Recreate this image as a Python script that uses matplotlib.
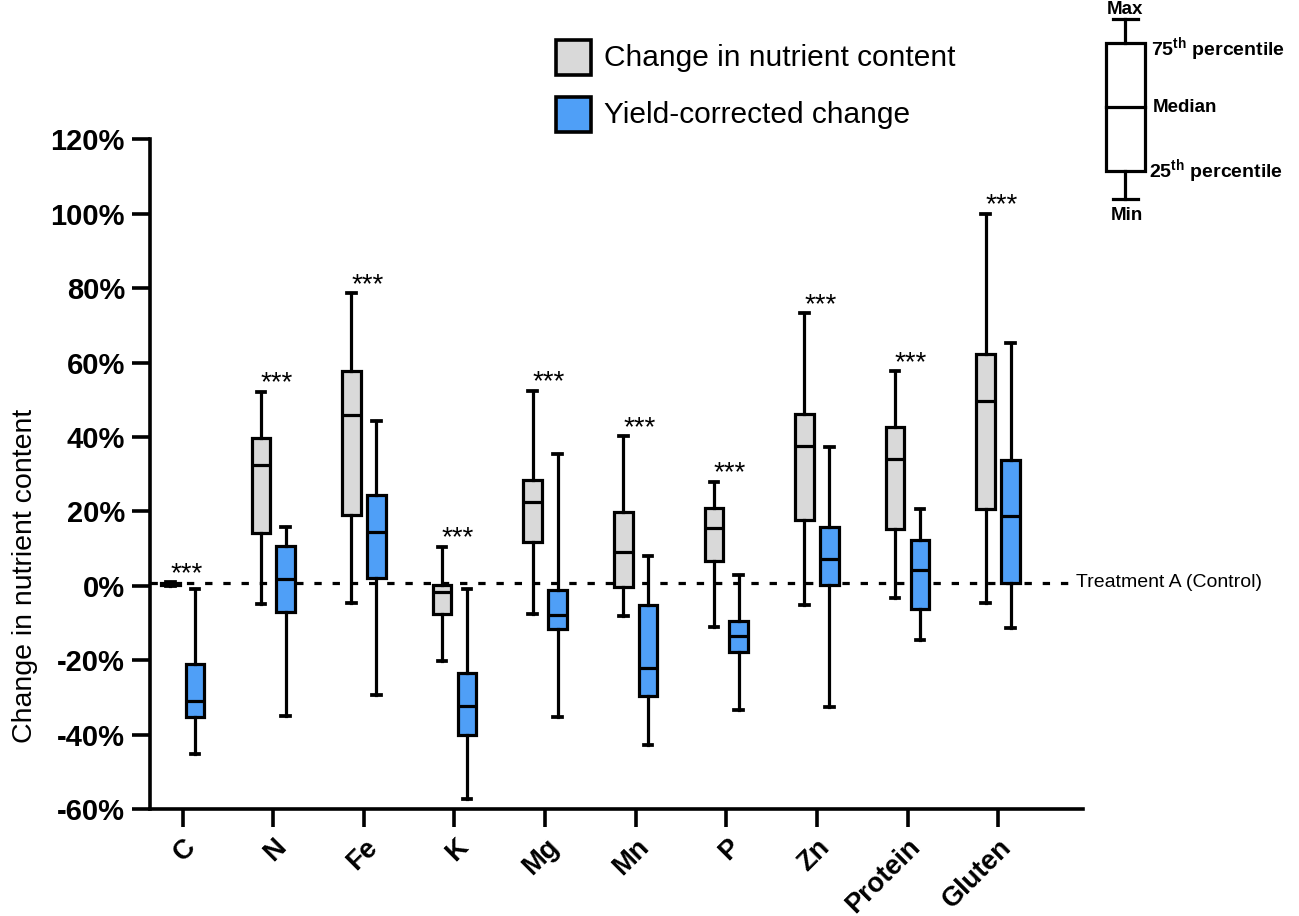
import matplotlib
matplotlib.use("Agg")
import matplotlib.pyplot as plt
from matplotlib.patches import Rectangle
from matplotlib.lines import Line2D
from matplotlib.transforms import ScaledTranslation

plt.rcParams['font.family'] = ['Liberation Sans', 'DejaVu Sans']
plt.rcParams['mathtext.fontset'] = 'custom'
plt.rcParams['mathtext.rm'] = 'Liberation Sans'
plt.rcParams['mathtext.bf'] = 'Liberation Sans:bold'

categories = ['C', 'N', 'Fe', 'K', 'Mg', 'Mn', 'P', 'Zn', 'Protein', 'Gluten']

# Change in nutrient content (grey): min, q1, median, q3, max (%)
nut_min = [0.0, -4.8, -4.5, -20.1, -7.5, -8.1, -11.2, -5.1, -3.4, -4.5]
nut_q1 = [0.3, 14.2, 19.0, -7.7, 11.8, -0.3, 6.7, 17.7, 15.2, 20.5]
nut_med = [0.5, 32.5, 46.0, -1.7, 22.6, 9.0, 15.4, 37.7, 34.1, 49.6]
nut_q3 = [0.7, 39.8, 57.7, 0.3, 28.5, 19.8, 20.8, 46.3, 42.6, 62.3]
nut_max = [1.0, 52.2, 78.6, 10.5, 52.4, 40.3, 28.0, 73.3, 57.7, 100.0]

# Yield-corrected change (blue)
yc_min = [-45.2, -35.0, -29.3, -57.2, -35.3, -42.7, -33.4, -32.6, -14.7, -11.4]
yc_q1 = [-35.3, -7.0, 2.1, -40.2, -11.5, -29.5, -17.9, 0.2, -6.2, 0.7]
yc_med = [-30.9, 1.7, 14.5, -32.3, -7.8, -22.2, -13.6, 7.2, 4.3, 18.8]
yc_q3 = [-21.0, 10.6, 24.3, -23.5, -1.1, -5.1, -9.4, 15.7, 12.4, 33.9]
yc_max = [-1.0, 15.8, 44.2, -1.0, 35.5, 8.0, 3.0, 37.4, 20.5, 65.3]

significance = ['***'] * 10
control_level = 0.8
yticks = [-60, -40, -20, 0, 20, 40, 60, 80, 100, 120]
ytick_labels = [f'{v}%' for v in yticks]

GREY = '#d9d9d9'
BLUE = '#4f9ff7'
LW = 2.3

W, H = 1299, 916
fig = plt.figure(figsize=(W / 100, H / 100), dpi=100)
ax_left, ax_right, ax_top, ax_bot = 150, 1083, 139.3, 809
ax = fig.add_axes([ax_left / W, 1 - ax_bot / H, (ax_right - ax_left) / W, (ax_bot - ax_top) / H])

x0 = list(range(len(categories)))
off = 0.137

def stats(mins, q1s, meds, q3s, maxs):
    return [dict(whislo=a, q1=b, med=c, q3=d, whishi=e) for a, b, c, d, e in zip(mins, q1s, meds, q3s, maxs)]

common = dict(widths=0.204, patch_artist=True, showfliers=False, manage_ticks=False,
              whiskerprops=dict(color='black', lw=LW), capprops=dict(color='black', lw=LW + 0.4),
              medianprops=dict(color='black', lw=LW), capwidths=0.095)
ax.bxp(stats(nut_min, nut_q1, nut_med, nut_q3, nut_max), positions=[p - off for p in x0],
       boxprops=dict(facecolor=GREY, edgecolor='black', lw=LW), **common)
ax.bxp(stats(yc_min, yc_q1, yc_med, yc_q3, yc_max), positions=[p + off for p in x0],
       boxprops=dict(facecolor=BLUE, edgecolor='black', lw=LW), **common)

xl = (ax_left - 182.7) / 90.6
xr = (ax_right - 182.7) / 90.6
ax.set_xlim(xl, xr)
ax.set_ylim(-60, 120)

# control dashed line
ax.plot([xl, (1070 - 182.7) / 90.6], [control_level, control_level], color='black', lw=LW,
        ls=(0, (2.3, 3.4)), zorder=1, clip_on=False)
ax.text((1076 - 182.7) / 90.6, control_level, 'Treatment A (Control)', ha='left', va='center',
        fontsize=14, clip_on=False)

for p, s, m in zip(x0, significance, nut_max):
    ax.text(p + 0.04, m + 0.3, s, ha='center', va='baseline', fontsize=20)

for side in ['top', 'right']:
    ax.spines[side].set_visible(False)
for side in ['left', 'bottom']:
    ax.spines[side].set_linewidth(LW + 0.3)

ax.set_yticks(yticks)
ax.set_yticklabels(ytick_labels, fontsize=21, fontweight='bold')
ax.set_xticks(x0)
ax.set_xticklabels(categories, fontsize=19.5, fontweight='bold', rotation=45,
                   ha='right', va='top', rotation_mode='anchor')
shift = ScaledTranslation(-7 / 100, 0, fig.dpi_scale_trans)
for lab in ax.get_xticklabels():
    lab.set_transform(lab.get_transform() + shift)
ax.tick_params(axis='both', length=13, width=LW + 0.3, direction='out')
ax.tick_params(axis='y', pad=5)
ax.tick_params(axis='x', pad=5)

fig.text(25 / W, 1 - 576 / H, 'Change in nutrient content', rotation=90, ha='center', va='center',
         fontsize=20.5)

# overlay in pixel coordinates for legend and key
ov = fig.add_axes([0, 0, 1, 1])
ov.set_xlim(0, W)
ov.set_ylim(H, 0)
ov.axis('off')
ov.patch.set_alpha(0)

legend_labels = ['Change in nutrient content', 'Yield-corrected change']
for (y_top, col, lab) in [(39.5, GREY, legend_labels[0]), (97, BLUE, legend_labels[1])]:
    ov.add_patch(Rectangle((556, y_top), 35, 35, facecolor=col, edgecolor='black', lw=LW + 0.3))
    ov.text(604, y_top + 18, lab, ha='left', va='center', fontsize=21.5)

# box-plot key
kx0, kx1, kxm = 1106, 1145, 1125.5
ov.add_patch(Rectangle((kx0, 43.3), kx1 - kx0, 170.7 - 43.3, facecolor='white', edgecolor='black', lw=LW))
ov.add_line(Line2D([kx0, kx1], [107.3, 107.3], color='black', lw=LW))
ov.add_line(Line2D([kxm, kxm], [19.3, 43.3], color='black', lw=LW))
ov.add_line(Line2D([kxm, kxm], [170.7, 199.3], color='black', lw=LW))
ov.add_line(Line2D([1113, 1138], [19.3, 19.3], color='black', lw=LW))
ov.add_line(Line2D([1113, 1138], [199.3, 199.3], color='black', lw=LW))
kf = dict(fontsize=13.5, fontweight='bold')
ov.text(1125, 10, 'Max', ha='center', va='center', **kf)
ov.text(1127, 216, 'Min', ha='center', va='center', **kf)
ov.text(1153, 107, 'Median', ha='left', va='center', **kf)
ov.text(1151, 55, r'$\mathbf{75^{th}}$ percentile', ha='left', va='baseline', fontsize=14, fontweight='bold')
ov.text(1149, 177, r'$\mathbf{25^{th}}$ percentile', ha='left', va='baseline', fontsize=14, fontweight='bold')

fig.savefig('out.png', dpi=100)
